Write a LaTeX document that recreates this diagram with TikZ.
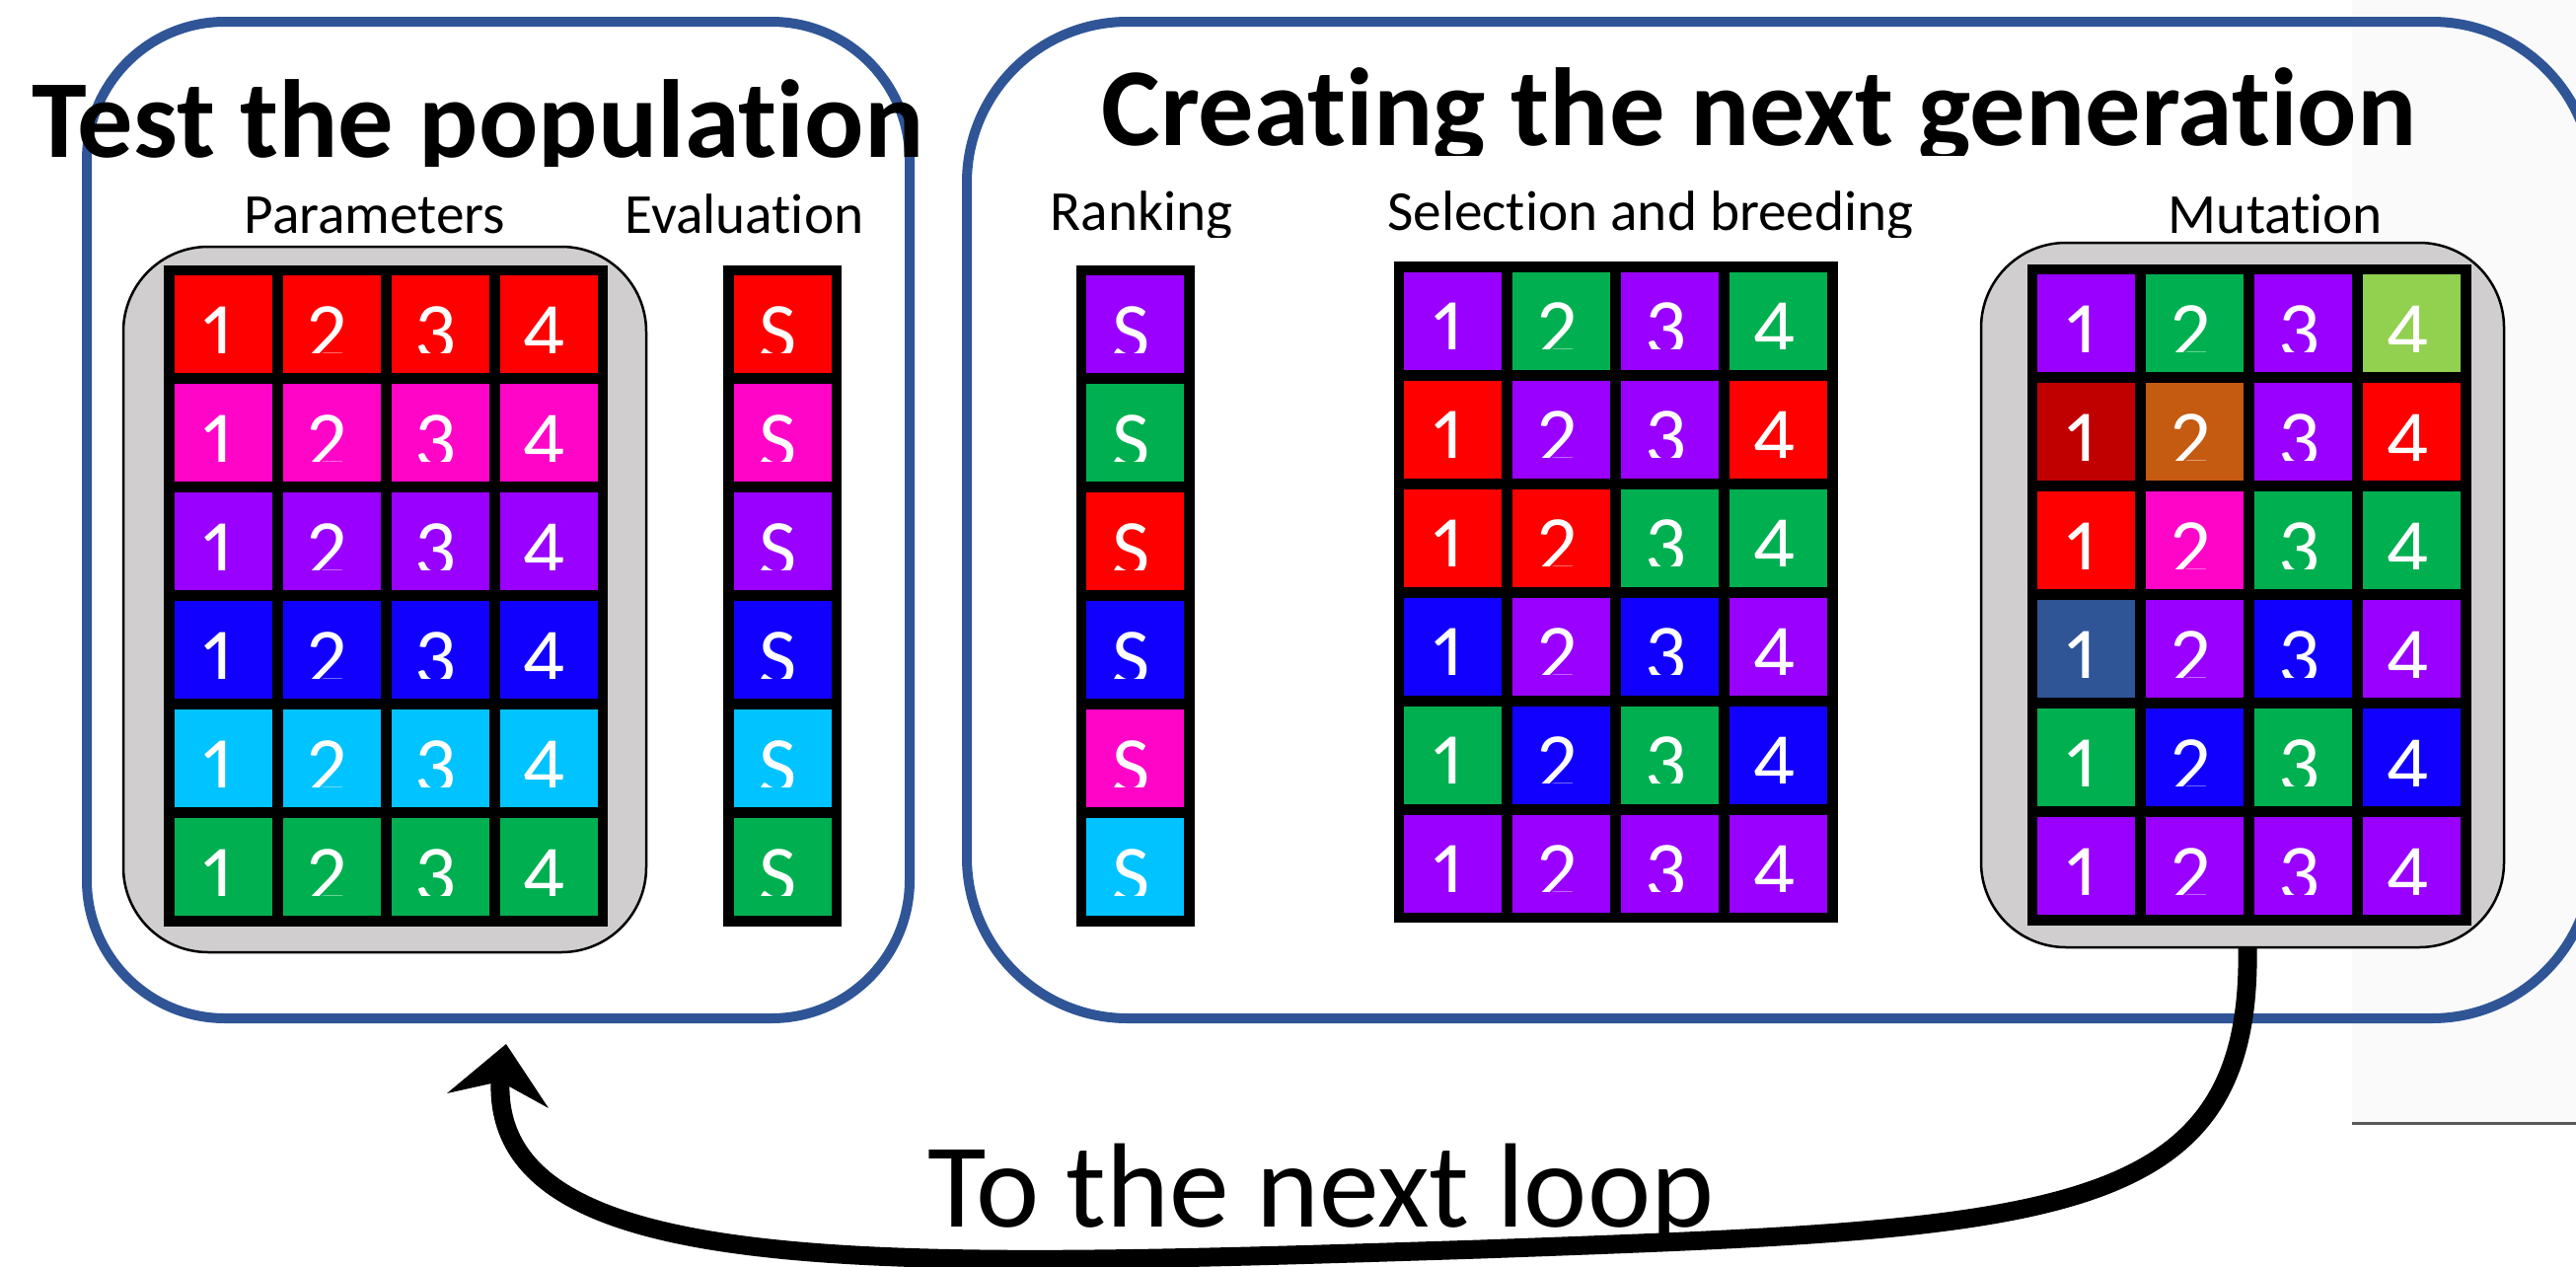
\documentclass[tikz,border=0pt]{standalone}
\usepackage{fontspec}
\setmainfont{Carlito}[Ligatures=NoCommon]
\definecolor{gred}{HTML}{FF0000}
\definecolor{gmag}{HTML}{FF05C8}
\definecolor{gpur}{HTML}{9900FF}
\definecolor{gblu}{HTML}{1200FF}
\definecolor{gcya}{HTML}{00C3FF}
\definecolor{ggre}{HTML}{00B050}
\definecolor{glgr}{HTML}{92D050}
\definecolor{gdrd}{HTML}{C00000}
\definecolor{gora}{HTML}{C55A11}
\definecolor{gdbl}{HTML}{2F5597}
\definecolor{boxblue}{HTML}{2F5597}
\definecolor{panelgray}{HTML}{D0CECE}
\definecolor{sidegray}{HTML}{FAFAFA}
\newcommand\gacell[5]{%
  \fill[fill=#4] (#2,#3) rectangle ++(99,99);
  \begin{scope}
    \clip (#2,#3) rectangle ++(99,78);
    \node[digit] (#1) at ({#2+45.5},{#3+85}) {#5};
  \end{scope}}
\newcommand\garow[7]{%
  \gacell{#1-1}{#2}{#3}{#4}{1}%
  \gacell{#1-2}{#2+110}{#3}{#5}{2}%
  \gacell{#1-3}{#2+220}{#3}{#6}{3}%
  \gacell{#1-4}{#2+330}{#3}{#7}{4}}
\begin{document}
\begin{tikzpicture}[x=0.1mm,y=-0.1mm,
  bluebox/.style={draw=boxblue, line width=1mm, inner sep=0pt, outer sep=0pt, anchor=north west},
  panel/.style={fill=panelgray, draw=black, line width=0.25mm, rounded corners=8.6mm, inner sep=0pt, outer sep=0pt, anchor=north west},
  gridframe/.style={fill=black, inner sep=0pt, outer sep=0pt, anchor=north west},
  digit/.style={text=white, font=\fontsize{23.6}{28}\selectfont, inner sep=0pt, anchor=base},
  lbl/.style={font=\fontsize{16.3}{19}\selectfont, inner sep=0pt, anchor=base},
  titl/.style={font=\bfseries\fontsize{32}{38}\selectfont, inner sep=0pt, anchor=base},
  looptext/.style={font=\fontsize{34.6}{40}\selectfont, inner sep=0pt, anchor=base},
  looparrow/.style={draw=black, line width=1.9mm}]
\clip (0,0) rectangle (2611,1283);
\fill[white] (0,0) rectangle (2611,1283);
\fill[sidegray] (2384,0) rectangle (2611,1138);
\draw[black!65, line width=0.3mm] (2384,1138) -- (2611,1138);
% blue boxes
\node[bluebox, rounded corners=14mm, minimum width=83.4mm, minimum height=101mm] (testbox) at (88,22) {};
\node[bluebox, rounded corners=16.3mm, minimum width=164.8mm, minimum height=101mm] (nextbox) at (980,22) {};
% grey panels
\node[panel, minimum width=53mm, minimum height=71.5mm] (parpanel) at (125,250) {};
\node[panel, minimum width=53mm, minimum height=71.4mm] (mutpanel) at (2008,246) {};
% black frames
\node[gridframe, minimum width=45mm, minimum height=67mm] (pargrid) at (166,268.5) {};
\node[gridframe, minimum width=12mm, minimum height=67mm] (evalcol) at (733,268.5) {};
\node[gridframe, minimum width=12mm, minimum height=67mm] (rankcol) at (1090.5,268.5) {};
\node[gridframe, minimum width=45mm, minimum height=67mm] (selgrid) at (1412.5,265.1) {};
\node[gridframe, minimum width=45mm, minimum height=67mm] (mutgrid) at (2054.5,267.5) {};
% cells
\foreach \r/\c in {0/gred,1/gmag,2/gpur,3/gblu,4/gcya,5/ggre}{
  \garow{P-\r}{176.5}{279+110*\r}{\c}{\c}{\c}{\c}
  \gacell{E-\r}{743.5}{279+110*\r}{\c}{S}
}
\foreach \r/\c in {0/gpur,1/ggre,2/gred,3/gblu,4/gmag,5/gcya}{
  \gacell{R-\r}{1101}{279+110*\r}{\c}{S}
}
\foreach \r/\qa/\qb/\qc/\qd in {0/gpur/ggre/gpur/ggre,1/gred/gpur/gpur/gred,2/gred/gred/ggre/ggre,3/gblu/gpur/gblu/gpur,4/ggre/gblu/ggre/gblu,5/gpur/gpur/gpur/gpur}{
  \garow{S-\r}{1423}{275.6+110*\r}{\qa}{\qb}{\qc}{\qd}
}
\foreach \r/\qa/\qb/\qc/\qd in {0/gpur/ggre/gpur/glgr,1/gdrd/gora/gpur/gred,2/gred/gmag/ggre/ggre,3/gdbl/gpur/gblu/gpur,4/ggre/gblu/ggre/gblu,5/gpur/gpur/gpur/gpur}{
  \garow{M-\r}{2065}{278+110*\r}{\qa}{\qb}{\qc}{\qd}
}
% labels
\node[lbl] (lpar) at (380,236) {Parameters};
\node[lbl] (leval) at (754.5,236) {Evaluation};
\begin{scope}
  \clip (1000,150) rectangle (2000,240);
  \node[lbl] (lrank) at (1157,233) {Ranking};
  \node[lbl] (lsel) at (1673,233) {Selection and breeding};
\end{scope}
\node[lbl] (lmut) at (2306.5,236) {Mutation};
% titles
\begin{scope}
  \clip (0,0) rectangle (1000,168);
  \node[titl] (t1) at (484.5,159) {Test the population};
\end{scope}
\begin{scope}
  \clip (1000,0) rectangle (2611,157);
  \node[titl] (t2) at (1783,147) {Creating the next generation};
\end{scope}
% loop
\node[looptext] (tnl) at (1339,1243) {To the next loop};
\coordinate (loopend) at (507,1096);
\draw[looparrow] ([xshift=0.5mm]mutpanel.south) .. controls (2283,1240) and (2080,1245) .. (1500,1266) .. controls (900,1285) and (500,1300) .. (loopend);
\fill[shift={(loopend)}] (6,-38) -- (-54,12) -- (0,0) -- (49,27) -- cycle;
\end{tikzpicture}
\end{document}
